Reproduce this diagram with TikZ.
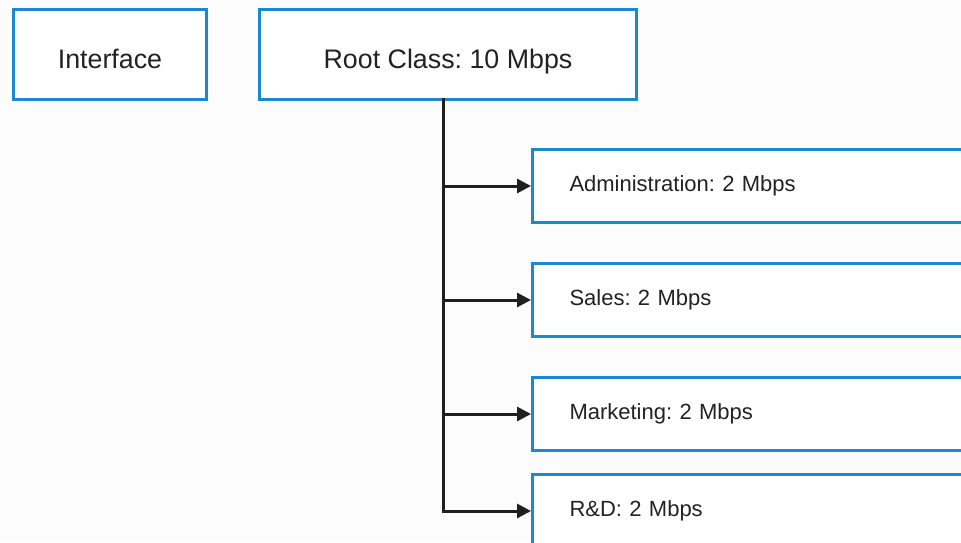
\documentclass[tikz,border=0pt]{standalone}
\usepackage{fontspec}
\setmainfont{Liberation Sans}
\usetikzlibrary{arrows.meta}
\definecolor{boxblue}{RGB}{28,136,206}
\definecolor{txtgray}{RGB}{34,34,34}
\definecolor{bggray}{RGB}{252,252,252}
\frenchspacing
\begin{document}
\begin{tikzpicture}[x=1pt,y=-1pt,
  box/.style={draw=boxblue, line width=3pt, fill=white, inner sep=0pt, anchor=north west, text=txtgray},
  topbox/.style={box, font=\fontsize{26.8}{30}\selectfont, align=center, text height=27.5pt, text depth=0pt},
  childbox/.style={box, font=\fontsize{22}{25}\selectfont, minimum height=73pt, text width=430pt, inner xsep=37pt, align=left},
  conn/.style={line width=3pt, draw=black!88},
  arr/.style={conn, -{Triangle[length=14pt,width=14pt]}}]
\useasboundingbox (0,0) rectangle (961,542);
\clip (0,0) rectangle (961,542);
\fill[bggray] (0,0) rectangle (961,542);
\node[topbox, minimum width=193pt, minimum height=90pt] (iface) at (12,8) {Interface};
\node[topbox, minimum width=377pt, minimum height=90pt] (root) at (258,8) {Root Class: 10 Mbps};
\node[childbox] (admin) at (531,148) {Administration: 2 Mbps};
\node[childbox] (sales) at (531,262) {Sales: 2 Mbps};
\node[childbox] (mkt) at (531,376) {Marketing: 2 Mbps};
\node[childbox] (rd) at (531,473) {R\&D: 2 Mbps};
\coordinate (trunk) at (443,98);
\draw[arr] (trunk) |- (rd.west);
\draw[arr] (admin.west -| trunk) -- (admin.west);
\draw[arr] (sales.west -| trunk) -- (sales.west);
\draw[arr] (mkt.west -| trunk) -- (mkt.west);
\end{tikzpicture}
\end{document}
